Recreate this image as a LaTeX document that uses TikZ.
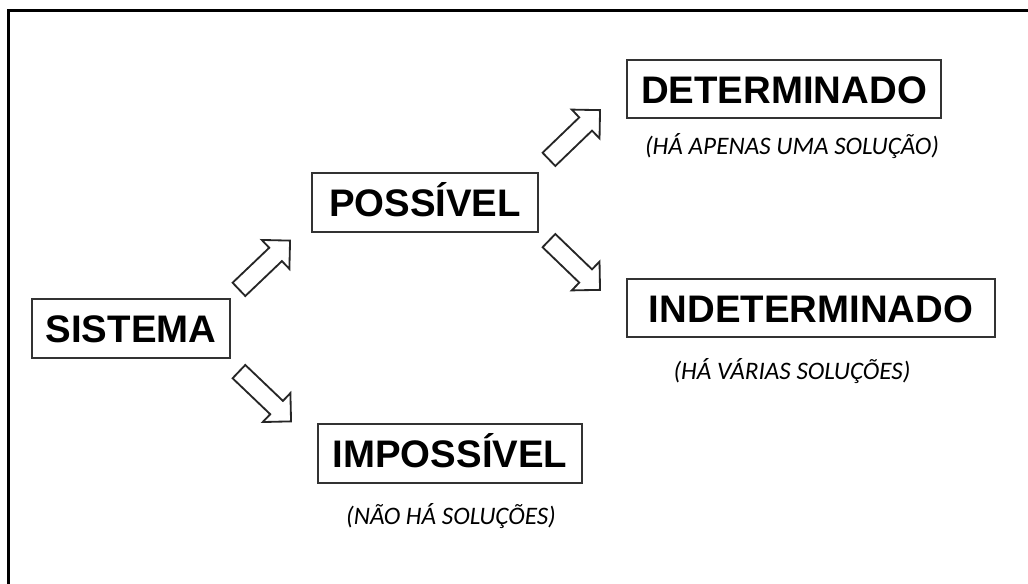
\documentclass[tikz,border=0pt]{standalone}
\usepackage{fontspec}
\setmainfont{Liberation Sans}
\newfontfamily\notefont{Carlito}
\usetikzlibrary{calc}

\tikzset{
	box/.style={draw=black!80, line width=1.3pt, inner sep=0pt, minimum height=1.46cm,
		text height=0.7cm, text depth=0pt, font=\fontsize{27.3}{30}\selectfont\bfseries},
	note/.style={inner sep=0pt, text height=0.39cm, text depth=0pt, text=black,
		font=\notefont\itshape\fontsize{17.9}{20}\selectfont},
	arrowline/.style={draw=black!85, line width=1.3pt, fill=white, line join=miter}
}

% hollow block arrow from #1 (tail) to #2 (tip)
\newcommand{\hollowarrow}[2]{%
	\path ($(#2)!0.5cm!(#1)$) coordinate (h);
	\draw[arrowline] ($(#1)!0.23cm!90:(#2)$) -- ($(h)!0.23cm!90:(#2)$) -- ($(h)!0.5cm!90:(#2)$)
		-- (#2) -- ($(h)!0.5cm!-90:(#2)$) -- ($(h)!0.23cm!-90:(#2)$) -- ($(#1)!0.23cm!-90:(#2)$) -- cycle;
}

\begin{document}
\begin{tikzpicture}[x=0.025cm, y=-0.025cm]
	\useasboundingbox (0, 0) rectangle (1028, 584);
	\draw[line width=1.5pt] (1028, 10.5) -- (8.5, 10.5) -- (8.5, 584);

	\node[box, minimum width=4.95cm] (sis) at (131, 328.5) {SISTEMA};
	\node[box, minimum width=5.65cm] (pos) at (425, 202.5) {POSSÍVEL};
	\node[box, minimum width=7.85cm] (det) at (784, 89) {DETERMINADO};
	\node[box, minimum width=9.2cm] (ind) at (811, 308) {INDETERMINADO};
	\node[box, minimum width=6.6cm] (imp) at (450, 453.5) {IMPOSSÍVEL};

	\node[note] (detnote) at (792, 147) {(HÁ APENAS UMA SOLUÇÃO)};
	\node[note] (indnote) at (792, 372) {(HÁ VÁRIAS SOLUÇÕES)};
	\node[note] (impnote) at (451, 517) {(NÃO HÁ SOLUÇÕES)};

	\coordinate (a1s) at ($(sis.north east)+(8, -9)$);
	\coordinate (a1e) at ($(pos.south west)+(-21, 8)$);
	\coordinate (a2s) at ($(sis.south east)+(8, 13)$);
	\coordinate (a2e) at ($(imp.north west)+(-26, -2)$);
	\coordinate (a3s) at ($(pos.north east)+(10, -13)$);
	\coordinate (a3e) at ($(det.south west)+(-26, -9)$);
	\coordinate (a4s) at ($(pos.south east)+(10, 8)$);
	\coordinate (a4e) at ($(ind.north west)+(-26, 12)$);
	\hollowarrow{a1s}{a1e}
	\hollowarrow{a2s}{a2e}
	\hollowarrow{a3s}{a3e}
	\hollowarrow{a4s}{a4e}
\end{tikzpicture}
\end{document}
